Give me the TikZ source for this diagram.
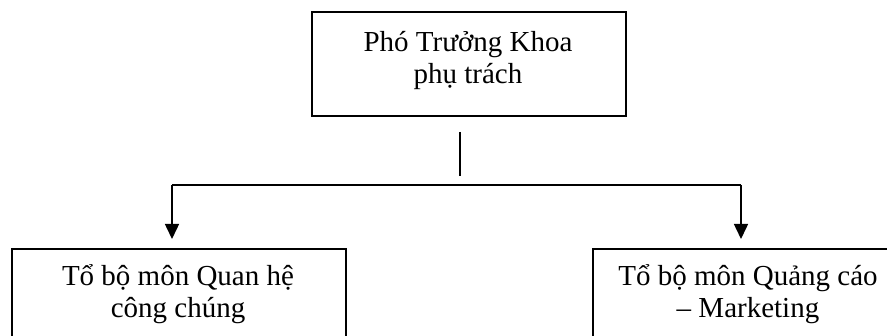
\documentclass[tikz,border=0pt]{standalone}
\usepackage{fontspec}
\setmainfont{Liberation Serif}
\usetikzlibrary{arrows.meta}
\begin{document}
\begin{tikzpicture}[x=1pt,y=1pt,
  box/.style={draw, line width=1.6pt, inner sep=0pt},
  lbl/.style={font=\fontsize{29}{32}\selectfont, align=center, inner sep=0pt},
  conn/.style={line width=1.5pt},
  arr/.style={conn, -{Triangle[width=14pt,length=15pt]}}]
\useasboundingbox (0,0) rectangle (887,-336);
\fill[white] (0,0) rectangle (887,-336);
% boxes
\node[box, minimum width=314pt, minimum height=104pt, anchor=north west] (top) at (311,-11) {};
\node[lbl, anchor=base] (toptext) at (468,-84) {Phó Trưởng Khoa\\phụ trách};
\node[box, minimum width=334pt, minimum height=120pt, anchor=north west] (left) at (11,-248) {};
\node[lbl, anchor=base] (lefttext) at (178,-318) {Tổ bộ môn Quan hệ\\công chúng};
\node[box, minimum width=312pt, minimum height=120pt, anchor=north west] (right) at (592,-248) {};
\node[lbl, anchor=base] (righttext) at (748,-318) {Tổ bộ môn Quảng cáo\\– Marketing};
% connectors
\coordinate (vtop) at (460,-132);
\coordinate (vbot) at (460,-176);
\coordinate (hl) at (172,-185);
\coordinate (hr) at (741,-185);
\coordinate (al) at (172,-239);
\coordinate (ar) at (741,-239);
\draw[conn] (vtop) -- (vbot);
\draw[conn] (hl) -- (hr);
\draw[arr] (hl) -- (al);
\draw[arr] (hr) -- (ar);
\end{tikzpicture}
\end{document}
